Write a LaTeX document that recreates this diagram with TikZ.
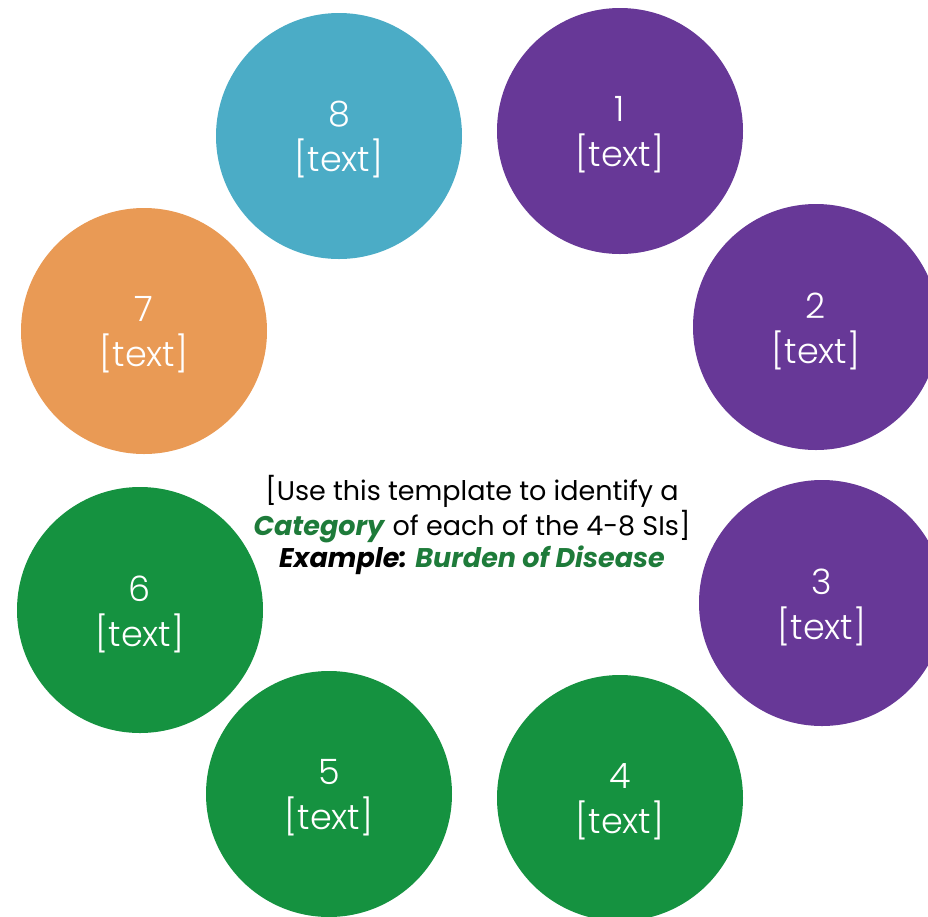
\documentclass[tikz,border=0pt]{standalone}
\usepackage{fontspec}
\setmainfont{Poppins}
\newfontfamily\lightfont{Poppins Light}
\definecolor{sipurple}{HTML}{673897}
\definecolor{siteal}{HTML}{4BACC6}
\definecolor{siorange}{HTML}{E99A55}
\definecolor{sigreen}{HTML}{159240}
\definecolor{catgreen}{HTML}{1E7B3A}
\tikzset{
  sicircle/.style={circle, minimum size=123pt, inner sep=0pt},
  sitext/.style={text=white, align=center, yshift=-2pt,
    font=\lightfont\fontsize{17.5}{22.5}\selectfont},
}

\begin{document}
\begin{tikzpicture}[x=0.5pt, y=-0.5pt]
            \clip (0,0) rectangle (928,917);
            \useasboundingbox (0,0) rectangle (928,917);
            % nodes
            \node (c1) [sicircle, fill=sipurple, label={[sitext]center:{1\\{[text]}}}] at (620,131) {};
            \node (c2) [sicircle, fill=sipurple, label={[sitext]center:{2\\{[text]}}}] at (816,327) {};
            \node (c3) [sicircle, fill=sipurple, label={[sitext]center:{3\\{[text]}}}] at (822,603) {};
            \node (c4) [sicircle, fill=sigreen, label={[sitext]center:{4\\{[text]}}}] at (620,798) {};
            \node (c5) [sicircle, fill=sigreen, label={[sitext]center:{5\\{[text]}}}] at (329,794) {};
            \node (c6) [sicircle, fill=sigreen, label={[sitext]center:{6\\{[text]}}}] at (140,610) {};
            \node (c7) [sicircle, fill=siorange, label={[sitext]center:{7\\{[text]}}}] at (144,331) {};
            \node (c8) [sicircle, fill=siteal, label={[sitext]center:{8\\{[text]}}}] at (339,136) {};
            % centre text
            \node (info) [align=center, font=\fontsize{13.5}{16}\selectfont] at (472,525)
              {[Use this template to identify a\\
               \textcolor{catgreen}{\textbf{\textit{Category}}} of each of the 4-8 SIs]\\
               \textbf{\textit{Example: \textcolor{catgreen}{Burden of Disease}}}};
\end{tikzpicture}
\end{document}
